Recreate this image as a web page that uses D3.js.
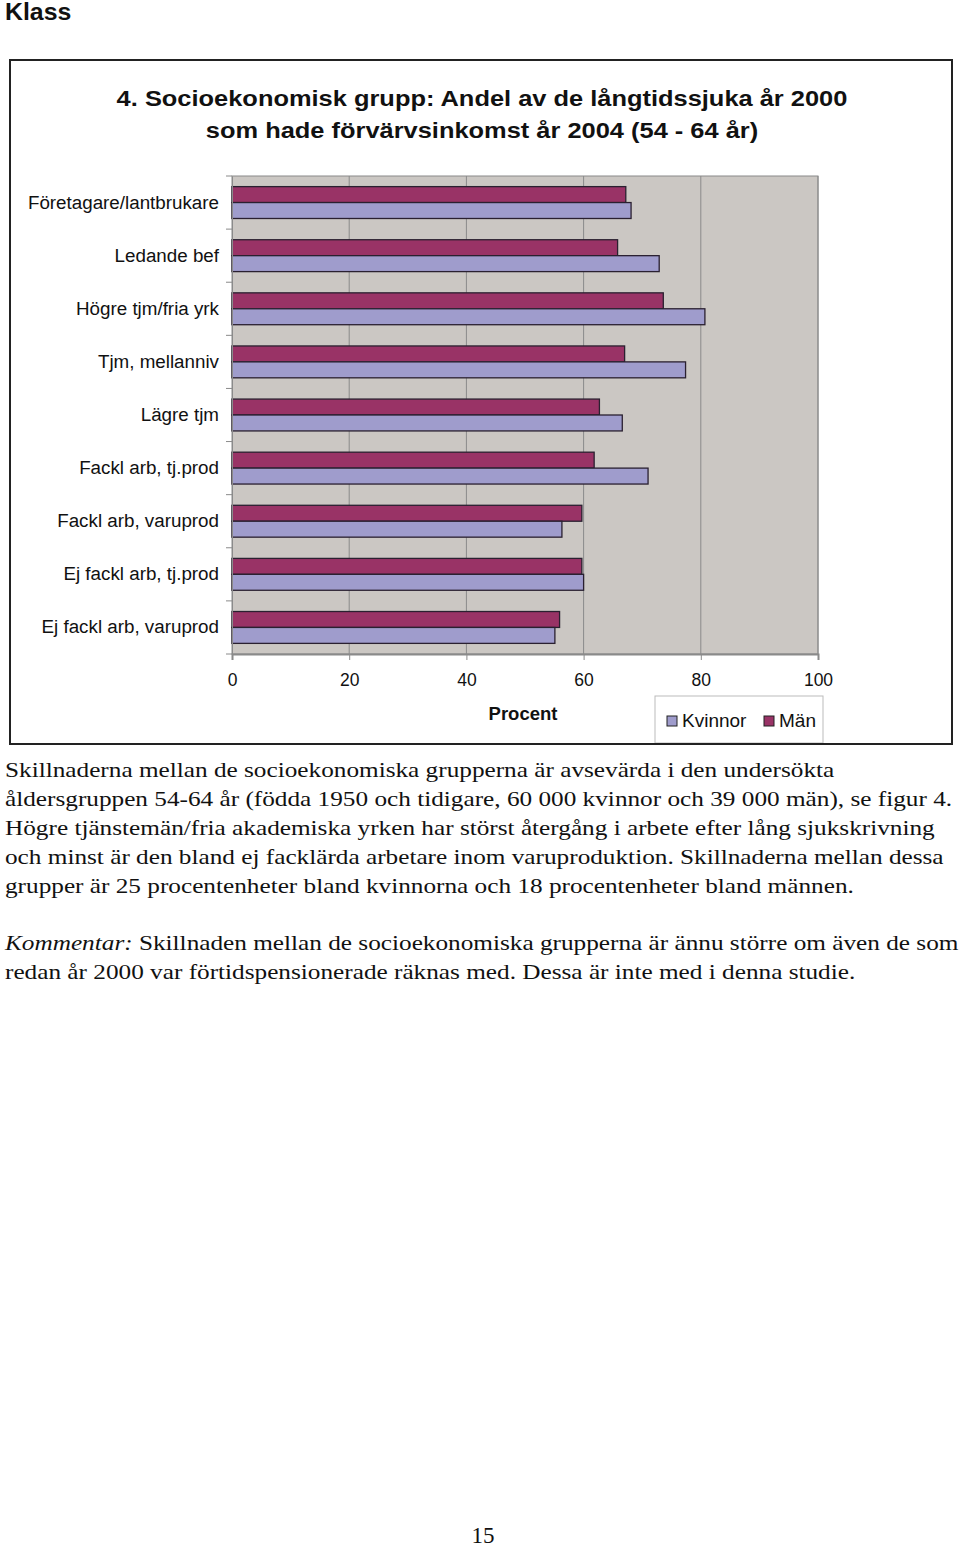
<!DOCTYPE html>
<html>
<head>
<meta charset="utf-8">
<script src="https://cdn.jsdelivr.net/npm/d3@7"></script>
<style>
  html, body { margin: 0; padding: 0; background: #fff; }
  svg { display: block; }
</style>
</head>
<body>
<div id="chart"></div>
<script>
// ---- Data ----
const categories = [
  "Företagare/lantbrukare",
  "Ledande bef",
  "Högre tjm/fria yrk",
  "Tjm, mellanniv",
  "Lägre tjm",
  "Fackl arb, tj.prod",
  "Fackl arb, varuprod",
  "Ej fackl arb, tj.prod",
  "Ej fackl arb, varuprod"
];
const seriesNames = ["Män", "Kvinnor"];
const manValues     = [67.2, 65.8, 73.6, 67.0, 62.7, 61.8, 59.7, 59.7, 55.9];
const kvinnorValues = [68.1, 72.9, 80.7, 77.4, 66.6, 71.0, 56.3, 60.0, 55.1];
const xTicks = [0, 20, 40, 60, 80, 100];
const legendOrder = ["Kvinnor", "Män"];

const titleLines = [
  "4. Socioekonomisk grupp: Andel av de långtidssjuka år 2000",
  "som hade förvärvsinkomst år 2004 (54 - 64 år)"
];
const paragraphLines = [
  "Skillnaderna mellan de socioekonomiska grupperna är avsevärda i den undersökta",
  "åldersgruppen 54-64 år (födda 1950 och tidigare, 60 000 kvinnor och 39 000 män), se figur 4.",
  "Högre tjänstemän/fria akademiska yrken har störst återgång i arbete efter lång sjukskrivning",
  "och minst är den bland ej facklärda arbetare inom varuproduktion. Skillnaderna mellan dessa",
  "grupper är 25 procentenheter bland kvinnorna och 18 procentenheter bland männen."
];
const commentLabel = "Kommentar:";
const commentLines = [
  " Skillnaden mellan de socioekonomiska grupperna är ännu större om även de som",
  "redan år 2000 var förtidspensionerade räknas med. Dessa är inte med i denna studie."
];

const colors = { "Män": "#993366", "Kvinnor": "#9f9ccc" };

// ---- Layout ----
const W = 960, H = 1547;
const svg = d3.select("#chart").append("svg")
  .attr("width", W).attr("height", H)
  .attr("viewBox", `0 0 ${W} ${H}`);
svg.append("rect").attr("width", W).attr("height", H).attr("fill", "#fff");

const sans = "'Liberation Sans', Arial, Helvetica, sans-serif";
const serif = "'Liberation Serif', 'Times New Roman', serif";

// Heading
svg.append("g").attr("transform", "translate(5,20) scale(1.08,1)")
  .append("text").attr("x", 0).attr("y", 0)
  .attr("font-family", sans).attr("font-weight", "bold").attr("font-size", 23)
  .attr("fill", "#111").text("Klass");

// Chart frame
svg.append("rect").attr("x", 10).attr("y", 60).attr("width", 942).attr("height", 684)
  .attr("fill", "#fff").attr("stroke", "#222").attr("stroke-width", 2);

// Title (slightly widened glyphs as in the reference)
titleLines.forEach((t, i) => {
  svg.append("g").attr("transform", `translate(482,${106 + i * 32}) scale(1.13,1)`)
    .append("text").attr("x", 0).attr("y", 0)
    .attr("text-anchor", "middle")
    .attr("font-family", sans).attr("font-weight", "bold").attr("font-size", 22.5)
    .attr("fill", "#111").text(t);
});

// Plot area
const plot = { left: 232, right: 818, top: 176, bottom: 654 };
const x = d3.scaleLinear().domain([0, 100]).range([plot.left, plot.right]);
const y = d3.scaleBand().domain(categories).range([plot.top, plot.bottom])
  .paddingInner(0.4).paddingOuter(0.2);
const ySub = d3.scaleBand().domain(seriesNames).range([0, y.bandwidth()]);

const g = svg.append("g");
g.append("rect").attr("x", plot.left).attr("y", plot.top)
  .attr("width", plot.right - plot.left).attr("height", plot.bottom - plot.top)
  .attr("fill", "#cbc7c3").attr("stroke", "#8a8a8a").attr("stroke-width", 1);

// Gridlines
g.selectAll("line.grid").data(xTicks.slice(1)).join("line")
  .attr("class", "grid")
  .attr("x1", d => x(d)).attr("x2", d => x(d))
  .attr("y1", plot.top).attr("y2", plot.bottom)
  .attr("stroke", "#8a8a8a").attr("stroke-width", 1);

// Bars
const rows = categories.map((c, i) => ({
  cat: c,
  vals: [{ s: "Män", v: manValues[i] }, { s: "Kvinnor", v: kvinnorValues[i] }]
}));
const rg = g.selectAll("g.row").data(rows).join("g")
  .attr("class", "row")
  .attr("transform", d => `translate(0,${y(d.cat)})`);
rg.selectAll("rect").data(d => d.vals).join("rect")
  .attr("x", x(0))
  .attr("y", d => ySub(d.s))
  .attr("width", d => x(d.v) - x(0))
  .attr("height", ySub.bandwidth())
  .attr("fill", d => colors[d.s])
  .attr("stroke", "#2a2030").attr("stroke-width", 1.3);

// X axis
const xAxis = d3.axisBottom(x).tickValues(xTicks).tickSize(6).tickPadding(14)
  .tickFormat(d3.format("d"));
const xg = svg.append("g").attr("transform", `translate(0,${plot.bottom})`).call(xAxis);
xg.select(".domain").attr("stroke", "#8a8a8a").attr("stroke-width", 2);
xg.selectAll(".tick line").attr("stroke", "#8a8a8a");
xg.selectAll(".tick text").attr("font-family", sans).attr("font-size", 17.5).attr("fill", "#111");

// Y axis: labels and ticks between categories
const yAxis = d3.axisLeft(y).tickSize(0).tickPadding(13);
const yg = svg.append("g").attr("transform", `translate(${plot.left},0)`).call(yAxis);
yg.select(".domain").attr("stroke", "#8a8a8a").attr("stroke-width", 1);
yg.selectAll(".tick text").attr("font-family", sans).attr("font-size", 18.8).attr("fill", "#111");
const bnd = d3.range(categories.length + 1).map(i => plot.top + i * y.step());
yg.selectAll("line.ytick").data(bnd).join("line")
  .attr("class", "ytick")
  .attr("x1", -6).attr("x2", 0)
  .attr("y1", d => d).attr("y2", d => d)
  .attr("stroke", "#8a8a8a");

// Axis title
svg.append("text").attr("x", 523).attr("y", 720).attr("text-anchor", "middle")
  .attr("font-family", sans).attr("font-weight", "bold").attr("font-size", 18.5)
  .attr("fill", "#111").text("Procent");

// Legend
const lg = svg.append("g");
lg.append("rect").attr("x", 655).attr("y", 696).attr("width", 168).attr("height", 47)
  .attr("fill", "#fff").attr("stroke", "#bbb").attr("stroke-width", 1);
const legendX = [667, 764];
legendOrder.forEach((s, i) => {
  lg.append("rect").attr("x", legendX[i]).attr("y", 716).attr("width", 10).attr("height", 10)
    .attr("fill", colors[s]).attr("stroke", "#222").attr("stroke-width", 1);
  lg.append("text").attr("x", legendX[i] + 15).attr("y", 727)
    .attr("font-family", sans).attr("font-size", 19).attr("fill", "#111").text(s);
});
// redraw frame bottom on top of legend
svg.append("line").attr("x1", 10).attr("x2", 952).attr("y1", 744).attr("y2", 744)
  .attr("stroke", "#222").attr("stroke-width", 2);

// Paragraph text (glyphs widened to match the reference's wide serif)
const kx = 1.148;
paragraphLines.forEach((t, i) => {
  svg.append("g").attr("transform", `translate(5,${777 + i * 29}) scale(${kx},1)`)
    .append("text").attr("x", 0).attr("y", 0)
    .attr("font-family", serif).attr("font-size", 22).attr("fill", "#111")
    .text(t);
});
const c1 = svg.append("g").attr("transform", `translate(5,950) scale(${kx},1)`)
  .append("text").attr("x", 0).attr("y", 0)
  .attr("font-family", serif).attr("font-size", 22).attr("fill", "#111");
c1.append("tspan").attr("font-style", "italic").text(commentLabel);
c1.append("tspan").text(commentLines[0]);
svg.append("g").attr("transform", `translate(5,979) scale(${kx},1)`)
  .append("text").attr("x", 0).attr("y", 0)
  .attr("font-family", serif).attr("font-size", 22).attr("fill", "#111")
  .text(commentLines[1]);

// Page number
svg.append("text").attr("x", 483).attr("y", 1543).attr("text-anchor", "middle")
  .attr("font-family", serif).attr("font-size", 23).attr("fill", "#111").text("15");
</script>
</body>
</html>
